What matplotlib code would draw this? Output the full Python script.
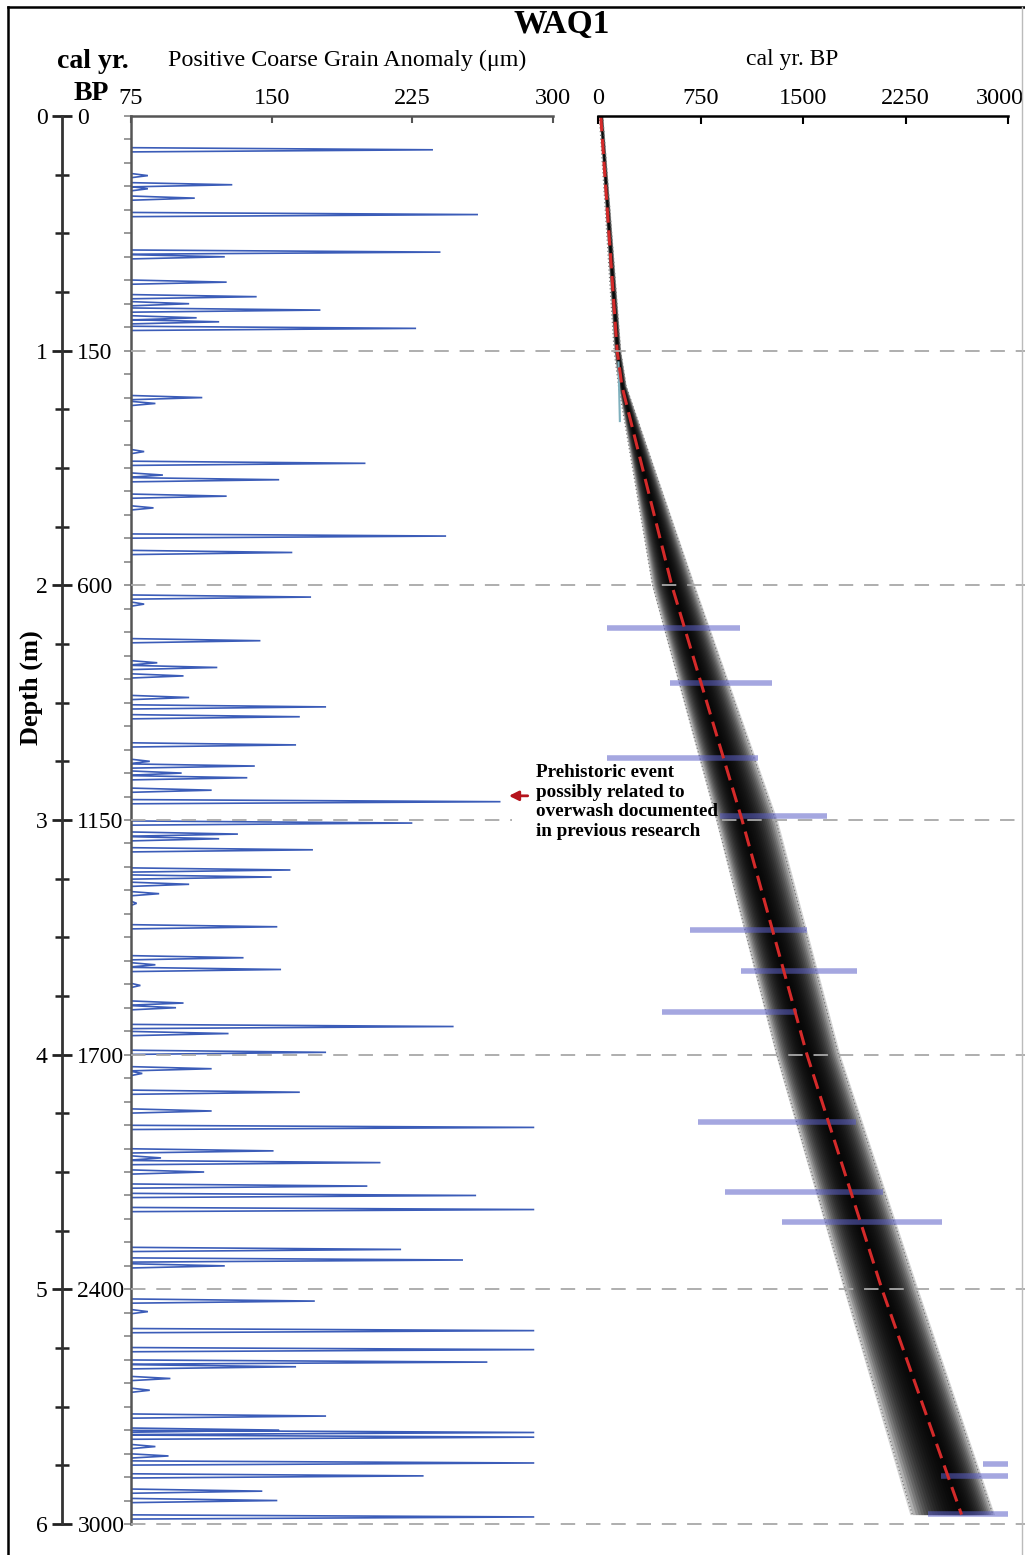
import numpy as np
import matplotlib.pyplot as plt
from matplotlib.lines import Line2D
from matplotlib.transforms import blended_transform_factory, ScaledTranslation

plt.rcParams['font.family'] = ['Liberation Serif', 'DejaVu Serif']

# coarse grain anomaly spikes: depth (m) of peak and peak value (um)
spike_depth = [0.144, 0.254, 0.293, 0.31, 0.35, 0.42, 0.58, 0.60, 0.708, 0.77, 0.80, 0.827, 0.86, 0.877, 0.905,
               1.20, 1.225, 1.43, 1.48, 1.53, 1.55, 1.62, 1.67, 1.79, 1.86, 2.05, 2.08,
               2.236, 2.33, 2.35, 2.386, 2.478, 2.518, 2.56, 2.68, 2.75, 2.77, 2.80, 2.82, 2.873, 2.922, 3.013, 3.06, 3.08, 3.127,
               3.213, 3.243, 3.274, 3.314, 3.355, 3.455, 3.587, 3.617, 3.637, 3.705, 3.78, 3.80, 3.88, 3.91, 3.99, 4.06, 4.08, 4.16,
               4.24, 4.31, 4.41, 4.44, 4.46, 4.50, 4.56, 4.60, 4.66, 4.83, 4.875, 4.90, 5.05, 5.095, 5.176,
               5.257, 5.31, 5.33, 5.38, 5.43, 5.54, 5.60, 5.61, 5.63, 5.67, 5.71, 5.74, 5.795, 5.86, 5.90, 5.97]
spike_value = [236, 84, 129, 84, 109, 260, 240, 125, 126, 142, 106, 176, 110, 122, 227,
               113, 88, 82, 200, 92, 154, 126, 87, 243, 161, 171, 82,
               144, 89, 121, 103, 106, 179, 165, 163, 85, 141, 102, 137, 118, 272, 225, 132, 122, 172,
               160, 150, 106, 90, 78, 153, 135, 88, 155, 80, 103, 99, 247, 127, 179, 118, 81, 165,
               118, 290, 151, 91, 208, 114, 201, 259, 290, 219, 252, 125, 173, 84, 290,
               290, 265, 163, 96, 85, 179, 154, 290, 290, 88, 95, 290, 231, 145, 153, 290]

# age-depth model (median + 95% range)
model_depth = [0, 1.0, 1.15, 2, 3, 4, 5, 5.96]
model_age = [20, 140, 175, 540, 1054, 1529, 2078, 2660]
model_lo = [10, 118, 150, 400, 870, 1310, 1810, 2300]
model_hi = [35, 165, 205, 700, 1300, 1760, 2330, 2890]

# calibrated date ranges
date_depth = [2.18, 2.415, 2.734, 2.985, 3.47, 3.645, 3.82, 4.285, 4.587, 4.715, 5.745, 5.797, 5.958]
date_min = [66, 527, 66, 893, 673, 1046, 468, 732, 929, 1346, 2817, 2510, 2415]
date_max = [1039, 1273, 1171, 1676, 1529, 1895, 1456, 1888, 2085, 2517, 3100, 3100, 3100]

depth_ticks = [0, 1, 2, 3, 4, 5, 6]
age_labels = ['0', '150', '600', '1150', '1700', '2400', '3000']
grain_ticks = [75, 150, 225, 300]
age_ticks = [0, 750, 1500, 2250, 3000]

W, H = 1025, 1555
fig = plt.figure(figsize=(W / 100, H / 100), dpi=100)


def fx(px):
    return px / W


def fy(py):
    return 1 - py / H


y_top, y_bot = 116, 1524
bottom = fy(y_bot)
height = fy(y_top) - bottom

ax_g = fig.add_axes([fx(131), bottom, fx(553) - fx(131), height])
ax_a = fig.add_axes([fx(598), bottom, fx(1008) - fx(598), height])
ax_d = fig.add_axes([fx(62), bottom, 0.0001, height])

for ax in (ax_g, ax_a, ax_d):
    ax.patch.set_visible(False)
    ax.set_ylim(6, 0)

# depth axis
for s in ['top', 'right', 'bottom']:
    ax_d.spines[s].set_visible(False)
ax_d.spines['left'].set_linewidth(2)
ax_d.spines['left'].set_color('#333333')
ax_d.set_xticks([])
ax_d.set_yticks(depth_ticks)
ax_d.set_yticks(np.arange(0, 6.01, 0.25), minor=True)
ax_d.tick_params(axis='y', which='major', direction='inout', length=15, width=2,
                 color='#222222', labelsize=17, pad=3)
ax_d.tick_params(axis='y', which='minor', direction='inout', length=10, width=1.8, color='#222222')
ax_d2 = ax_d.twinx()
ax_d2.set_ylim(6, 0)
for s in ax_d2.spines.values():
    s.set_visible(False)
ax_d2.set_yticks(depth_ticks, labels=age_labels)
ax_d2.tick_params(axis='y', length=0, labelsize=17, pad=11)

# grain anomaly panel
gx, gy = [], []
hw = 0.009
for d, v in zip(spike_depth, spike_value):
    gx += [75, v, 75, np.nan]
    gy += [d - hw, d, d + hw, np.nan]
ax_g.plot(gx, gy, color='#3b5cb8', lw=1.2, solid_joinstyle='miter')
ax_g.set_xlim(75, 300)
ax_g.xaxis.tick_top()
ax_g.set_xticks(grain_ticks)
ax_g.tick_params(axis='x', direction='in', length=5, width=1.5, color='#555555',
                 labelsize=17.5, pad=5)
ax_g.set_yticks(np.arange(0, 6.01, 0.1))
ax_g.tick_params(axis='y', direction='out', length=5, width=1.2, color='#888888', labelleft=False)
for s in ['right', 'bottom']:
    ax_g.spines[s].set_visible(False)
for s in ['left', 'top']:
    ax_g.spines[s].set_color('#555555')
    ax_g.spines[s].set_linewidth(1.8)

# age-depth panel
md = np.array(model_depth)
ma = np.array(model_age)
lo = np.array(model_lo)
hi = np.array(model_hi)
for f in np.linspace(1.05, 0.08, 18):
    ax_a.fill_betweenx(md, ma - f * (ma - lo), ma + f * (hi - ma), color='black',
                       alpha=0.17, lw=0)
ax_a.plot(lo, md, ls=(0, (1, 2)), color='#777777', lw=0.9)
ax_a.plot(hi, md, ls=(0, (1, 2)), color='#777777', lw=0.9)
ax_a.plot([150, 160], [1.05, 1.3], color='#7fb0bd', lw=1.5)
ax_a.hlines(date_depth, date_min, date_max, color='#5c60c8', lw=4, alpha=0.55)
ax_a.plot(ma, md, color='#d42a2a', lw=2.2, ls=(0, (5, 2.5)))
ax_a.set_xlim(0, 3000)
ax_a.xaxis.tick_top()
ax_a.set_xticks(age_ticks)
ax_a.tick_params(axis='x', direction='in', length=6, width=1.5, labelsize=17.5, pad=5)
last = ax_a.get_xticklabels()[-1]
last.set_transform(last.get_transform() + ScaledTranslation(-0.08, 0, fig.dpi_scale_trans))
ax_a.set_yticks([])
for s in ['left', 'right', 'bottom']:
    ax_a.spines[s].set_visible(False)
ax_a.spines['top'].set_linewidth(1.8)

# dashed depth lines across both panels (the 3 m line stops at the note)
tr = blended_transform_factory(fig.transFigure, ax_g.transData)
for d in depth_ticks[1:]:
    spans = [(131, 1025)] if d != 3 else [(131, 512), (722, 1025)]
    for x0, x1 in spans:
        fig.add_artist(Line2D([fx(x0), fx(x1)], [d, d], transform=tr, color='#a8a8a8',
                              lw=1.3, ls=(0, (8, 6)), zorder=1))

# annotation
ax_g.annotate('', xy=(275, 2.897), xytext=(288, 2.897),
              arrowprops=dict(arrowstyle='-|>', color='#b5141c', lw=2, mutation_scale=14),
              annotation_clip=False)
fig.text(fx(536), fy(764), 'Prehistoric event\npossibly related to\noverwash documented\nin previous research',
         ha='left', va='top', fontsize=13.8, fontweight='bold', linespacing=1.2, zorder=3)

# titles and labels
fig.text(fx(562), fy(25), 'WAQ1', ha='center', va='center', fontsize=24, fontweight='bold')
fig.text(fx(93), fy(62), 'cal yr.', ha='center', va='center', fontsize=20, fontweight='bold')
fig.text(fx(91), fy(93), 'BP', ha='center', va='center', fontsize=20, fontweight='bold')
fig.text(fx(347), fy(60), 'Positive Coarse Grain Anomaly (\u03bcm)', ha='center', va='center', fontsize=17.3)
fig.text(fx(792), fy(60), 'cal yr. BP', ha='center', va='center', fontsize=17)
fig.text(fx(31), fy(688), 'Depth (m)', ha='center', va='center', rotation=90, fontsize=19,
         fontweight='bold')

# outer frame
fig.add_artist(Line2D([fx(8), fx(8)], [fy(7), 0], color='black', lw=1.8))
fig.add_artist(Line2D([fx(8), 1], [fy(7), fy(7)], color='black', lw=1.8))
fig.add_artist(Line2D([fx(1022), fx(1022)], [fy(7), 0], color='#bbbbbb', lw=1))

fig.savefig('out.png', dpi=100)
